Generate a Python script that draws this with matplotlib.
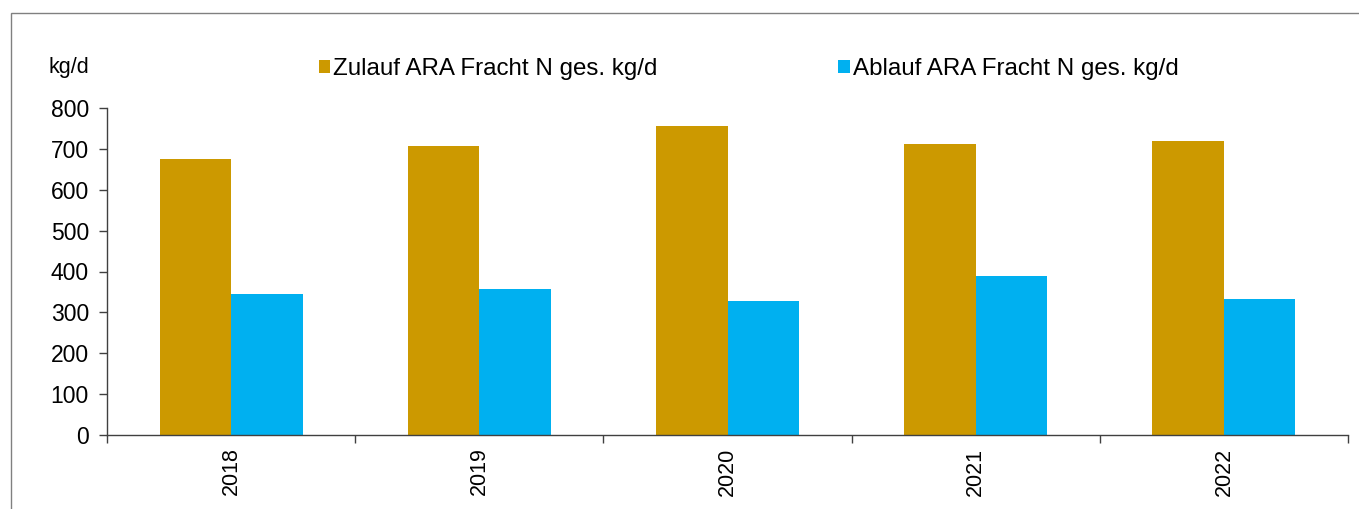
import matplotlib.pyplot as plt
import matplotlib.patches as mpatches
import numpy as np

plt.rcParams['font.family'] = ['Liberation Sans', 'DejaVu Sans']

# Stickstofffracht Zulauf / Ablauf ARA
years = ['2018', '2019', '2020', '2021', '2022']
zulauf = [676, 706, 755, 711, 720]
ablauf = [346, 356, 328, 390, 332]

label_zulauf = 'Zulauf ARA Fracht N ges. kg/d'
label_ablauf = 'Ablauf ARA Fracht N ges. kg/d'
col_zulauf = '#CC9900'
col_ablauf = '#00B0F0'

W, H = 1359, 509
fig = plt.figure(figsize=(W / 100, H / 100), dpi=100)
ax = fig.add_axes([107 / W, 1 - 435 / H, (1348 - 107) / W, (435 - 108) / H])

x = np.arange(len(years))
bw = 0.288
ax.bar(x - bw / 2, zulauf, bw, color=col_zulauf, label=label_zulauf)
ax.bar(x + bw / 2, ablauf, bw, color=col_ablauf, label=label_ablauf)

ax.set_xlim(-0.5, len(years) - 0.5)
ax.set_ylim(0, 800)
ax.set_yticks(np.arange(0, 801, 100))

# Kategoriegrenzen als Ticks, Jahreszahlen mittig dazwischen
ax.set_xticks(np.arange(-0.5, len(years)), labels=[])
ax.set_xticks(x, labels=years, minor=True)
ax.tick_params(axis='x', which='major', length=6, width=1, color='#404040', direction='out')
ax.tick_params(axis='x', which='minor', length=0, pad=9, labelrotation=90, labelsize=15.5)
ax.tick_params(axis='y', length=6, width=1, color='#404040', direction='out', pad=7, labelsize=16.5)

for s in ['top', 'right']:
    ax.spines[s].set_visible(False)
for s in ['left', 'bottom']:
    ax.spines[s].set_color('#404040')
    ax.spines[s].set_linewidth(1)

fig.text(48 / W, 1 - 68 / H, 'kg/d', fontsize=15.5, va='center', ha='left')

ax.legend(loc='center left', bbox_to_anchor=(319 / W, 1 - 69 / H),
          bbox_transform=fig.transFigure, ncol=2, frameon=False,
          fontsize=17.4, handlelength=0.46, handleheight=0.46,
          handletextpad=0.13, columnspacing=7.48, borderpad=0, borderaxespad=0)

# Rahmen um die Grafik
fig.add_artist(mpatches.Rectangle((11 / W, -0.1), 1.2, 1 - 13 / H + 0.1,
                                  transform=fig.transFigure, fill=False,
                                  edgecolor='#808080', linewidth=1))

fig.savefig('out.png', dpi=100)
